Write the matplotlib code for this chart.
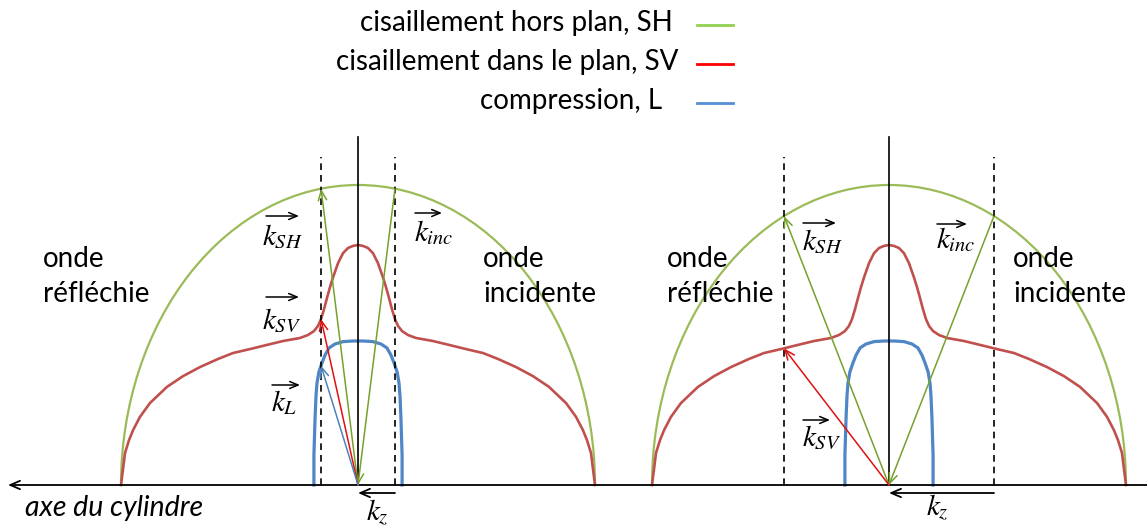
import numpy as np
import matplotlib.pyplot as plt
from matplotlib.patches import Arc

plt.rcParams['font.family'] = ['Lato', 'DejaVu Sans']
plt.rcParams['mathtext.fontset'] = 'stix'

# wave numbers normalised by the SH wave number (SH curve = unit semi-ellipse)
sv_kx = [-1.0, -0.992, -0.983, -0.966, -0.949, -0.920, -0.878, -0.806, -0.738, -0.667,
         -0.591, -0.527, -0.456, -0.384, -0.316, -0.245, -0.211, -0.186, -0.169, -0.156,
         -0.143, -0.131, -0.118, -0.105, -0.084, -0.063, -0.042, -0.021, 0.0,
         0.021, 0.042, 0.063, 0.084, 0.105, 0.118, 0.131, 0.143, 0.156, 0.169,
         0.186, 0.211, 0.245, 0.316, 0.384, 0.456, 0.527, 0.591, 0.667, 0.738,
         0.806, 0.878, 0.920, 0.949, 0.966, 0.983, 0.992, 1.0]
sv_kz = [0.0, 0.05, 0.107, 0.15, 0.183, 0.227, 0.273, 0.327, 0.363, 0.393,
         0.42, 0.44, 0.453, 0.467, 0.48, 0.49, 0.50, 0.513, 0.53, 0.553,
         0.587, 0.623, 0.66, 0.693, 0.74, 0.773, 0.79, 0.797, 0.80,
         0.797, 0.79, 0.773, 0.74, 0.693, 0.66, 0.623, 0.587, 0.553, 0.53,
         0.513, 0.50, 0.49, 0.48, 0.467, 0.453, 0.44, 0.42, 0.393, 0.363,
         0.327, 0.273, 0.227, 0.183, 0.15, 0.107, 0.05, 0.0]
l_kx = [-0.186, -0.186, -0.181, -0.177, -0.173, -0.165, -0.152, -0.139, -0.122, -0.097,
        -0.063, -0.021, 0.0, 0.021, 0.063, 0.097, 0.122, 0.139, 0.152, 0.165,
        0.173, 0.177, 0.181, 0.186, 0.186]
l_kz = [0.0, 0.1, 0.227, 0.30, 0.34, 0.377, 0.407, 0.433, 0.457, 0.47,
        0.478, 0.48, 0.48, 0.48, 0.478, 0.47, 0.457, 0.433, 0.407, 0.377,
        0.34, 0.30, 0.227, 0.1, 0.0]
kz_cases = [0.156, 0.443]   # incident k_z for the two drawings

legend_labels = ['cisaillement hors plan, SH', 'cisaillement dans le plan, SV', 'compression, L']

GREEN_C, RED_C, BLUE_C = '#9BBB59', '#C0504D', '#4F86C6'
GREEN_A, RED_A, BLUE_A = '#77A02E', '#E01010', '#4F81BD'
LEG_COLORS = ['#92D050', '#FF0000', '#558ED5']

fig = plt.figure(figsize=(11.47, 5.27), dpi=100)
ax = fig.add_axes([0, 0, 1, 1])
ax.set_xlim(0, 1147)
ax.set_ylim(-42, 485)
ax.axis('off')

SX, SY = 237, 300          # drawing scale of one wave-number unit
centres = [358, 889]


def arrow(p0, p1, color, lw=1.1, hl=0.7, hw=0.3):
    ax.annotate('', xy=p1, xytext=p0,
                arrowprops=dict(arrowstyle='->,head_length=%g,head_width=%g' % (hl, hw),
                                color=color, lw=lw, shrinkA=0, shrinkB=0))


def klabel(x, y, sub, ax0, ax1, ay):
    ax.text(x, y, r'$k_{%s}$' % sub, fontsize=21, ha='left', va='center')
    arrow((ax0, ay), (ax1, ay), 'black', lw=1.1, hl=0.6, hw=0.25)


# cylinder axis
arrow((1147, 0), (8, 0), 'black', lw=1.3, hl=0.7, hw=0.3)
ax.text(25, -31, 'axe du cylindre', fontsize=20.5, style='italic', ha='left', va='baseline')

for i, (cx, kz) in enumerate(zip(centres, kz_cases)):
    ax.add_patch(Arc((cx, 0), 2 * SX, 2 * SY, theta1=0, theta2=180, color=GREEN_C, lw=1.6))
    ax.plot(cx + SX * np.array(sv_kx), SY * np.array(sv_kz), color=RED_C, lw=1.9)
    ax.plot(cx + SX * np.array(l_kx), SY * np.array(l_kz), color=BLUE_C, lw=2.3)
    ax.plot([cx, cx], [0, 348], color='black', lw=1.2)
    for s in (-1, 1):
        ax.plot([cx + s * SX * kz] * 2, [0, 328], color='black', lw=1.2, ls=(0, (4, 3)))

    h_sh = SY * np.sqrt(1 - kz ** 2)
    arrow((cx, 0), (cx - SX * kz, h_sh), GREEN_A)
    arrow((cx + SX * kz, h_sh), (cx, 0), GREEN_A)
    arrow((cx, 0), (cx - SX * kz, SY * np.interp(-kz, sv_kx, sv_kz)), RED_A)
    if kz < max(l_kx):
        arrow((cx, 0), (cx - SX * kz, SY * np.interp(-kz, l_kx, l_kz)), BLUE_A)
    arrow((cx + SX * kz, -8), (cx, -8), 'black', lw=1.3, hl=0.7, hw=0.3)

# wave labels
for x, txt in [(43, 'réfléchie'), (483, 'incidente'), (667, 'réfléchie'), (1013, 'incidente')]:
    ax.text(x, 485 - 267, 'onde', fontsize=20, ha='left', va='baseline')
    ax.text(x, 485 - 302, txt, fontsize=20, ha='left', va='baseline')

klabel(262, 485 - 237, 'SH', 266, 299, 485 - 216)
klabel(262, 485 - 320, 'SV', 266, 299, 485 - 297)
klabel(271, 485 - 403, 'L', 272, 300, 485 - 385)
klabel(414, 485 - 233, 'inc', 415, 442, 485 - 213)
klabel(802, 485 - 242, 'SH', 803, 836, 485 - 223)
klabel(936, 485 - 240, 'inc', 937, 967, 485 - 224)
klabel(802, 485 - 437, 'SV', 803, 830, 485 - 420)
ax.text(366, 485 - 513, r'$k_z$', fontsize=21, ha='left', va='center')
ax.text(926, 485 - 508, r'$k_z$', fontsize=21, ha='left', va='center')

# legend
for j, (lab, col, xr) in enumerate(zip(legend_labels, LEG_COLORS, [673, 678, 662])):
    ax.text(xr, 485 - (31 + 39 * j), lab, fontsize=20, ha='right', va='baseline')
    ax.plot([697, 733], [485 - (25 + 39 * j)] * 2, color=col, lw=2.0)

fig.savefig('out.png', dpi=100)
